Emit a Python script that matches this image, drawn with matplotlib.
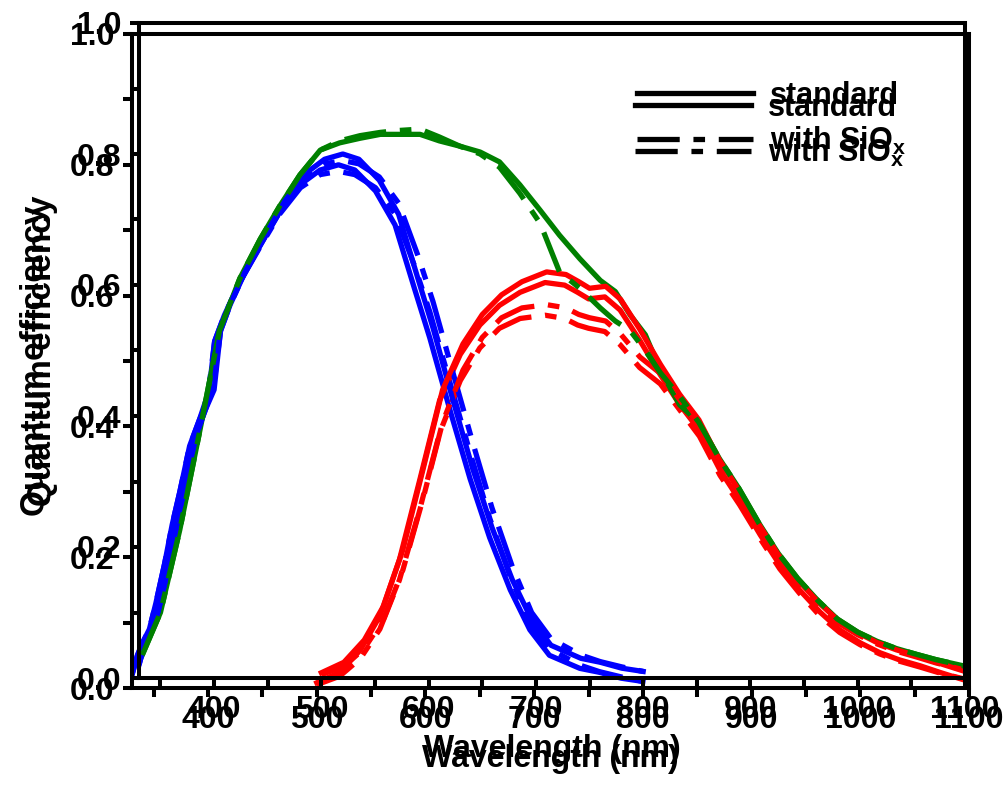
import matplotlib
matplotlib.use("Agg")
import matplotlib.pyplot as plt
from matplotlib.lines import Line2D
from matplotlib.ticker import MultipleLocator, FormatStrFormatter
from matplotlib import font_manager

# blue (short wavelength) pixel
wl_blue = [330, 335, 340, 346, 352, 360, 367, 374, 383, 392, 400, 406, 415, 429, 448,
           466, 485, 503, 520, 535, 554, 572, 590, 604, 622, 641, 659, 678, 696, 714,
           742, 760, 780, 800]
qe_blue_std = [0.02, 0.05, 0.07, 0.09, 0.13, 0.19, 0.25, 0.30, 0.37, 0.41, 0.44, 0.53,
               0.57, 0.62, 0.677, 0.728, 0.77, 0.792, 0.80, 0.792, 0.76, 0.708, 0.61,
               0.535, 0.428, 0.32, 0.23, 0.15, 0.089, 0.05, 0.03, 0.024, 0.015, 0.01]
qe_blue_siox = [0.02, 0.05, 0.07, 0.09, 0.13, 0.19, 0.25, 0.30, 0.37, 0.41, 0.45, 0.53,
                0.57, 0.62, 0.675, 0.725, 0.765, 0.785, 0.79, 0.785, 0.765, 0.725, 0.645,
                0.575, 0.47, 0.36, 0.26, 0.17, 0.10, 0.06, 0.035, 0.025, 0.017, 0.01]

# red (long wavelength) pixel
wl_red = [500, 521, 540, 558, 576, 595, 613, 632, 650, 668, 687, 710, 728, 740, 750,
          765, 779, 797, 816, 834, 852, 871, 889, 908, 926, 944, 963, 981, 1000, 1018,
          1036, 1055, 1073, 1100]
qe_red_std = [0.008, 0.024, 0.058, 0.11, 0.196, 0.32, 0.44, 0.51, 0.555, 0.585, 0.605,
              0.62, 0.616, 0.605, 0.595, 0.598, 0.578, 0.532, 0.479, 0.433, 0.394, 0.333,
              0.287, 0.234, 0.188, 0.15, 0.116, 0.089, 0.069, 0.054, 0.043, 0.034, 0.024,
              0.01]
qe_red_siox = [0.005, 0.018, 0.045, 0.09, 0.165, 0.275, 0.39, 0.47, 0.52, 0.55, 0.565,
               0.57, 0.565, 0.555, 0.55, 0.545, 0.525, 0.49, 0.465, 0.425, 0.385, 0.325,
               0.28, 0.228, 0.182, 0.145, 0.11, 0.085, 0.066, 0.052, 0.041, 0.032, 0.023,
               0.012]

# green pixel (only in the upper copy)
wl_green = [333, 350, 368, 387, 405, 424, 443, 461, 480, 499, 517, 536, 555, 573, 592,
            610, 629, 648, 666, 685, 704, 722, 741, 760, 774, 788, 802, 816, 834, 852,
            871, 889, 908, 926, 944, 963, 981, 1000, 1018, 1036, 1055, 1073, 1100]
qe_green_std = [0.035, 0.10, 0.226, 0.38, 0.53, 0.61, 0.67, 0.72, 0.768, 0.806, 0.817,
                0.824, 0.83, 0.83, 0.83, 0.82, 0.812, 0.803, 0.788, 0.753, 0.714, 0.676,
                0.64, 0.607, 0.59, 0.554, 0.524, 0.47, 0.417, 0.39, 0.335, 0.29, 0.236,
                0.19, 0.152, 0.118, 0.09, 0.07, 0.056, 0.045, 0.036, 0.028, 0.018]
qe_green_siox = [0.035, 0.10, 0.226, 0.38, 0.53, 0.61, 0.67, 0.72, 0.768, 0.806, 0.82,
                 0.828, 0.833, 0.836, 0.838, 0.826, 0.812, 0.8, 0.78, 0.74, 0.694, 0.62,
                 0.595, 0.565, 0.545, 0.53, 0.5, 0.466, 0.43, 0.39, 0.335, 0.29, 0.236,
                 0.19, 0.152, 0.118, 0.09, 0.07, 0.056, 0.045, 0.036, 0.028, 0.018]

legend_labels = ["standard", "with SiO$_\\mathregular{x}$"]

W, H = 1007, 785
LW = 3.8
DASHDOT = (0, (8, 2.6, 2.2, 2.6))

names = {f.name for f in font_manager.fontManager.ttflist}
tick_family = "Liberation Sans Narrow" if "Liberation Sans Narrow" in names else "Liberation Sans"
tick_size = 25 if tick_family == "Liberation Sans Narrow" else 23

plt.rcParams['font.family'] = ['Liberation Sans', 'DejaVu Sans']
plt.rcParams['font.weight'] = 'bold'
plt.rcParams['mathtext.default'] = 'regular'


def px_box(left, top, right, bottom):
    return [left / W, 1 - bottom / H, (right - left) / W, (bottom - top) / H]


def draw_frame(fig, box, legend_xy, with_green):
    ax = fig.add_axes(px_box(*box))
    ax.set_facecolor('none')

    if with_green:
        ax.plot(wl_green, qe_green_std, color='green', lw=LW, ls='-')
    ax.plot(wl_blue, qe_blue_std, color='blue', lw=LW, ls='-')
    ax.plot(wl_blue, qe_blue_siox, color='blue', lw=LW, ls=DASHDOT)
    ax.plot(wl_red, qe_red_std, color='red', lw=LW, ls='-')
    ax.plot(wl_red, qe_red_siox, color='red', lw=LW, ls=DASHDOT)
    if with_green:
        ax.plot(wl_green, qe_green_siox, color='green', lw=LW, ls=DASHDOT)

    ax.set_xlim(330, 1100)
    ax.set_ylim(0, 1.0)
    ax.xaxis.set_major_locator(MultipleLocator(100))
    ax.xaxis.set_minor_locator(MultipleLocator(50))
    ax.yaxis.set_major_locator(MultipleLocator(0.2))
    ax.yaxis.set_minor_locator(MultipleLocator(0.1))
    ax.yaxis.set_major_formatter(FormatStrFormatter('%.1f'))

    for s in ax.spines.values():
        s.set_linewidth(2.9)
    ax.tick_params(which='both', direction='out', length=6.5, width=2.9,
                   top=False, right=False, pad=6,
                   labelsize=tick_size, labelfontfamily=tick_family)

    ax.set_xlabel('Wavelength (nm)', fontsize=23, fontweight='bold', labelpad=6)
    ax.set_ylabel('Quantum efficiency', fontsize=24, fontweight='bold', labelpad=14)

    handles = [Line2D([], [], color='k', lw=LW, ls='-'),
               Line2D([], [], color='k', lw=LW, ls=DASHDOT)]
    ax.legend(handles, legend_labels, loc='upper left',
              bbox_to_anchor=(legend_xy[0] / W, 1 - legend_xy[1] / H),
              bbox_transform=fig.transFigure, frameon=False, fontsize=22,
              handlelength=3.8, handletextpad=0.55, labelspacing=0.45,
              borderpad=0, borderaxespad=0)
    return ax


def main():
    fig = plt.figure(figsize=(W / 100, H / 100), dpi=100)
    # two copies of the same panel, slightly shifted against each other
    draw_frame(fig, (132, 34, 969, 688), (635, 93), False)
    draw_frame(fig, (139, 23, 965, 678), (637, 81), True)
    fig.savefig('out.png', dpi=100)


if __name__ == "__main__":
    main()
